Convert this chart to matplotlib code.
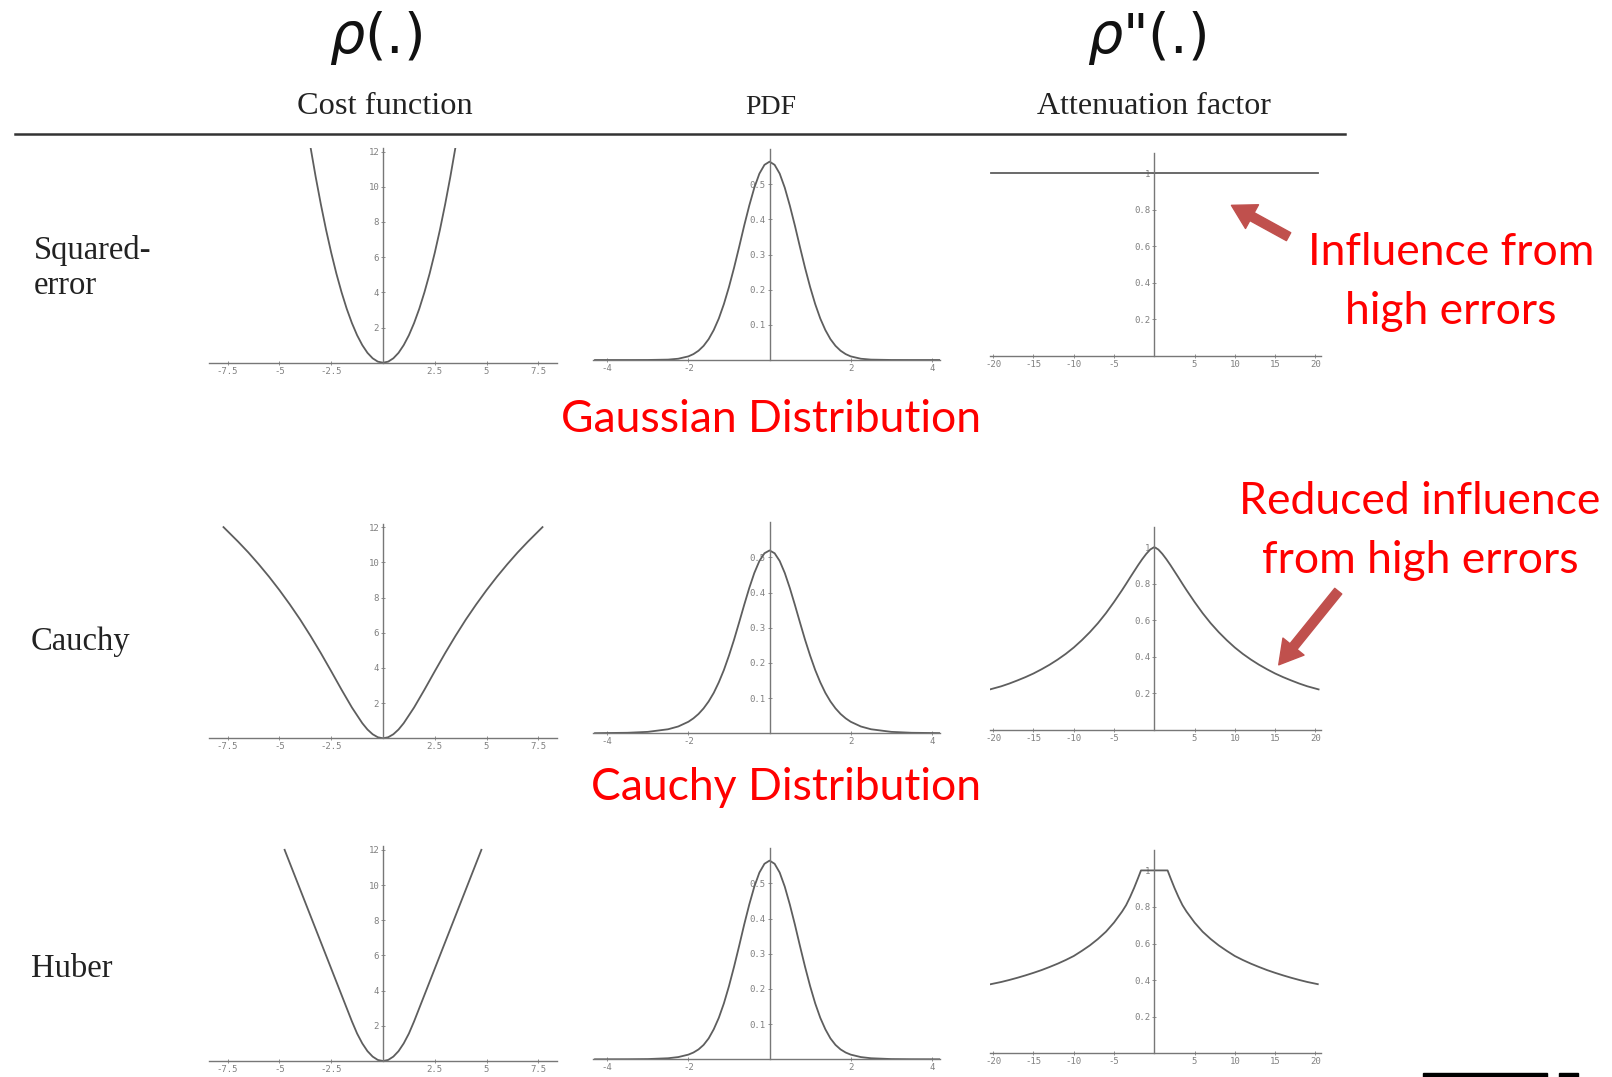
import numpy as np
import matplotlib
matplotlib.use("Agg")
import matplotlib.pyplot as plt
from matplotlib.patches import FancyArrowPatch, Rectangle

W, H = 1612, 1077

# ---- data: half curves (x >= 0), mirrored when drawn ----
sq_cost_x = [0, 0.25, 0.5, 0.75, 1, 1.25, 1.5, 1.75, 2, 2.25, 2.5, 2.75, 3, 3.25, 3.5]
sq_cost_y = [0, 0.06, 0.25, 0.56, 1.0, 1.56, 2.25, 3.06, 4.0, 5.06, 6.25, 7.56, 9.0, 10.56, 12.25]

cauchy_cost_x = [0, 0.25, 0.5, 0.75, 1, 1.5, 2, 2.5, 3, 3.5, 4, 4.5, 5, 5.5, 6, 6.5, 7, 7.7]
cauchy_cost_y = [0, 0.06, 0.23, 0.50, 0.86, 1.75, 2.76, 3.81, 4.84, 5.82, 6.75, 7.61, 8.42,
                 9.18, 9.89, 10.56, 11.18, 12.0]

huber_cost_x = [0, 0.25, 0.5, 0.75, 1, 1.25, 1.5, 2, 3, 4, 4.75]
huber_cost_y = [0, 0.06, 0.25, 0.56, 1.0, 1.56, 2.25, 3.75, 6.75, 9.75, 12.0]

pdf_x = [0, 0.125, 0.25, 0.375, 0.5, 0.625, 0.75, 0.875, 1, 1.125, 1.25, 1.375, 1.5,
         1.625, 1.75, 1.875, 2, 2.25, 2.5, 3, 3.5, 4.3]
gauss_pdf_y = [0.564, 0.555, 0.530, 0.490, 0.439, 0.382, 0.321, 0.262, 0.2075, 0.159, 0.118,
               0.0852, 0.0594, 0.0402, 0.0264, 0.0168, 0.0103, 0.0036, 0.0011, 0.0001, 0.0, 0.0]
cauchy_pdf_y = [0.52, 0.512, 0.490, 0.456, 0.413, 0.365, 0.315, 0.266, 0.221, 0.180, 0.145,
                0.115, 0.0907, 0.0709, 0.055, 0.0426, 0.0328, 0.0194, 0.0115, 0.0041, 0.0015, 0.0004]
huber_pdf_y = [0.565, 0.556, 0.531, 0.491, 0.440, 0.383, 0.322, 0.263, 0.208, 0.159, 0.118,
               0.0854, 0.0595, 0.0409, 0.0281, 0.0193, 0.0133, 0.0063, 0.0030, 0.0007, 0.0002, 0.0]

sq_att_x = [0, 20.3]
sq_att_y = [1.0, 1.0]

cauchy_att_x = [0, 0.5, 1, 1.5, 2, 2.5, 3, 3.5, 4, 5, 6, 7, 8, 9, 10, 11, 12, 13, 14, 15,
                16, 17, 18, 19, 20.4]
cauchy_att_y = [1.0, 0.987, 0.963, 0.934, 0.902, 0.868, 0.834, 0.799, 0.765, 0.700, 0.639,
                0.584, 0.535, 0.491, 0.451, 0.416, 0.385, 0.357, 0.332, 0.309, 0.289, 0.271,
                0.254, 0.239, 0.222]

huber_att_x = [0, 1.65, 2, 2.5, 3, 3.5, 4, 4.5, 5, 6, 7, 8, 9, 10, 11, 12, 13, 14, 15, 16,
               17, 18, 19, 20.3]
huber_att_y = [1.0, 1.0, 0.96, 0.905, 0.855, 0.81, 0.775, 0.745, 0.715, 0.665, 0.625, 0.59,
               0.56, 0.532, 0.51, 0.49, 0.472, 0.455, 0.44, 0.426, 0.413, 0.401, 0.39, 0.378]

cost_ticks = [-7.5, -5, -2.5, 2.5, 5, 7.5]
cost_tick_labels = ["-7.5", "-5", "-2.5", "2.5", "5", "7.5"]
cost_yticks = [2, 4, 6, 8, 10, 12]
pdf_ticks = [-4, -2, 2, 4]
pdf_yticks = [0.1, 0.2, 0.3, 0.4, 0.5]
att_ticks = [-20, -15, -10, -5, 5, 10, 15, 20]
att_yticks = [0.2, 0.4, 0.6, 0.8, 1]
att_ytick_labels = ["0.2", "0.4", "0.6", "0.8", "1"]

row_names = ["Squared-\nerror", "Cauchy", "Huber"]


def mirror(x, y):
    x = np.asarray(x, float)
    y = np.asarray(y, float)
    return np.concatenate([-x[::-1], x[1:]]), np.concatenate([y[::-1], y[1:]])


fig = plt.figure(figsize=(W / 100, H / 100), dpi=100)
fig.patch.set_facecolor("white")
mono = "DejaVu Sans Mono"


def panel(x0, x1, base, height):
    ax = fig.add_axes([x0 / W, 1 - base / H, (x1 - x0) / W, height / H])
    ax.patch.set_alpha(0)
    for s in ["top", "right"]:
        ax.spines[s].set_visible(False)
    ax.spines["left"].set_position(("data", 0))
    for s in ["left", "bottom"]:
        ax.spines[s].set_color("#777777")
        ax.spines[s].set_linewidth(1.0)
    ax.tick_params(labelsize=6.5, colors="#808080", length=2.5, width=0.6,
                   direction="inout", pad=1.5)
    return ax


def fig_text(x, y, s, **kw):
    fig.text(x / W, 1 - y / H, s, **kw)


cost_curves = [(sq_cost_x, sq_cost_y), (cauchy_cost_x, cauchy_cost_y), (huber_cost_x, huber_cost_y)]
pdf_curves = [gauss_pdf_y, cauchy_pdf_y, huber_pdf_y]
att_curves = [(sq_att_x, sq_att_y), (cauchy_att_x, cauchy_att_y), (huber_att_x, huber_att_y)]

cost_base = [362.7, 738.3, 1061]
pdf_base = [360, 733.3, 1059.3]
att_base = [356, 730, 1053.3]

curve_kw = dict(color="#5e5e5e", lw=1.3, clip_on=True, solid_joinstyle="round")

for r in range(3):
    # cost function
    ax = panel(209, 557, cost_base[r], 214.7)
    cx, cy = mirror(*cost_curves[r])
    ax.plot(cx, cy, **curve_kw)
    ax.set_xlim(-8.4, 8.4)
    ax.set_ylim(0, 12.2)
    ax.set_xticks(cost_ticks)
    ax.set_xticklabels(cost_tick_labels, family=mono)
    ax.set_yticks(cost_yticks)
    ax.set_yticklabels([str(v) for v in cost_yticks], family=mono)

    # pdf
    ax = panel(593, 940, pdf_base[r], 211)
    px, py = mirror(pdf_x, pdf_curves[r])
    ax.plot(px, py, **curve_kw)
    ax.set_xlim(-4.35, 4.2)
    ax.set_ylim(0, 0.6)
    ax.set_xticks(pdf_ticks)
    ax.set_xticklabels([str(v) for v in pdf_ticks], family=mono)
    ax.set_yticks(pdf_yticks)
    ax.set_yticklabels([str(v) for v in pdf_yticks], family=mono)

    # attenuation
    ax = panel(990, 1321, att_base[r], 203)
    axx, ayy = mirror(*att_curves[r])
    ax.plot(axx, ayy, **curve_kw)
    ax.set_xlim(-20.4, 20.7)
    ax.set_ylim(0, 1.11)
    ax.set_xticks(att_ticks)
    ax.set_xticklabels([str(v) for v in att_ticks], family=mono)
    ax.set_yticks(att_yticks)
    ax.set_yticklabels(att_ytick_labels, family=mono)

# headers
plt.rcParams["mathtext.fontset"] = "dejavusans"
fig_text(376, 38, r"$\rho$(.)", fontsize=40, ha="center", va="center", color="#111111")
fig_text(1146, 38, r'$\rho$"(.)', fontsize=40, ha="center", va="center", color="#111111")

serif = "Liberation Serif"
fig_text(385, 107, "Cost function", family=serif, fontsize=23.3, ha="center", va="center", color="#222222")
fig_text(771, 107, "PDF", family=serif, fontsize=20, ha="center", va="center", color="#222222")
fig_text(1154, 107, "Attenuation factor", family=serif, fontsize=23, ha="center", va="center", color="#222222")

fig.add_artist(plt.Line2D([15 / W, 1345 / W], [1 - 133.6 / H, 1 - 133.6 / H],
                          color="#333333", lw=1.8, transform=fig.transFigure))

# row labels
fig_text(34, 268, row_names[0], family=serif, fontsize=23.5, ha="left", va="center",
         color="#222222", linespacing=1.2)
fig_text(31, 642, row_names[1], family=serif, fontsize=23.5, ha="left", va="center", color="#222222")
fig_text(31, 969, row_names[2], family=serif, fontsize=23.5, ha="left", va="center", color="#222222")

# red annotations
red = "#ff0000"
sans = "Lato"
fig_text(1451, 282, "Influence from\nhigh errors", family=sans, fontsize=32, ha="center",
         va="center", color=red, linespacing=1.55)
fig_text(771, 420, "Gaussian Distribution", family=sans, fontsize=32, ha="center", va="center", color=red)
fig_text(1420, 531, "Reduced influence\nfrom high errors", family=sans, fontsize=32, ha="center",
         va="center", color=red, linespacing=1.55)
fig_text(786, 788, "Cauchy Distribution", family=sans, fontsize=32, ha="center", va="center", color=red)

arrow_kw = dict(arrowstyle="simple,head_length=1.3,head_width=1.5,tail_width=0.5",
                mutation_scale=13, color="#c0504d", transform=fig.transFigure)
fig.add_artist(FancyArrowPatch((1291 / W, 1 - 238 / H), (1229 / W, 1 - 204 / H), **arrow_kw))
fig.add_artist(FancyArrowPatch((1340 / W, 1 - 589 / H), (1277 / W, 1 - 667 / H), **arrow_kw))

# black bars at the bottom right
fig.add_artist(Rectangle((1423 / W, 0), 124 / W, 4 / H, color="black", transform=fig.transFigure))
fig.add_artist(Rectangle((1559 / W, 0), 19 / W, 4 / H, color="black", transform=fig.transFigure))

fig.savefig("out.png", dpi=100, facecolor="white")
